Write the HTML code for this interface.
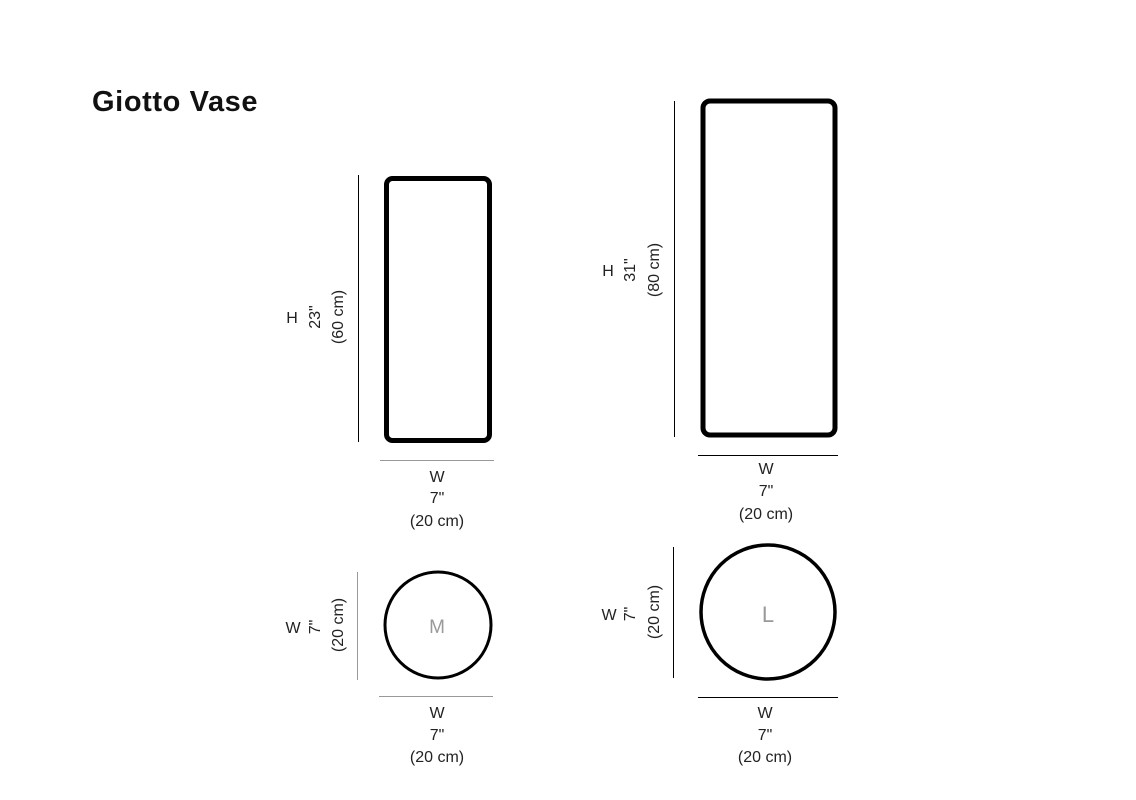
<!DOCTYPE html>
<html><head><meta charset="utf-8"><style>
html,body{margin:0;padding:0;background:#fff;}
svg{display:block;}
text{font-family:"Liberation Sans",sans-serif;font-size:16px;fill:#222;}
</style></head><body>
<svg width="1136" height="800" viewBox="0 0 1136 800" xmlns="http://www.w3.org/2000/svg">
<text x="92" y="111" style="font-size:29px;font-weight:bold;fill:#111;letter-spacing:0.6px">Giotto Vase</text>

<!-- M rect -->
<line x1="358.5" y1="175" x2="358.5" y2="442" stroke="#000" stroke-width="1"/>
<rect x="386.5" y="178.5" width="103" height="262" rx="6" fill="none" stroke="#000" stroke-width="5"/>
<line x1="380" y1="460.5" x2="494" y2="460.5" stroke="#999" stroke-width="1"/>
<g text-anchor="middle">
<text x="292" y="323">H</text>
<text transform="translate(320,317) rotate(-90)">23"</text>
<text transform="translate(343,317) rotate(-90)">(60 cm)</text>
<text x="437" y="482">W</text>
<text x="437" y="503">7"</text>
<text x="437" y="526">(20 cm)</text>
</g>

<!-- L rect -->
<line x1="674.5" y1="101" x2="674.5" y2="437" stroke="#000" stroke-width="1"/>
<rect x="703" y="101" width="132" height="334" rx="7" fill="none" stroke="#000" stroke-width="5"/>
<line x1="698" y1="455.5" x2="838" y2="455.5" stroke="#000" stroke-width="1"/>
<g text-anchor="middle">
<text x="608" y="276">H</text>
<text transform="translate(635,270) rotate(-90)">31"</text>
<text transform="translate(659,270) rotate(-90)">(80 cm)</text>
<text x="766" y="474">W</text>
<text x="766" y="496">7"</text>
<text x="766" y="519">(20 cm)</text>
</g>

<!-- M circle -->
<line x1="357.5" y1="572" x2="357.5" y2="680" stroke="#999" stroke-width="1"/>
<circle cx="438" cy="625" r="53" fill="none" stroke="#000" stroke-width="3"/>
<text x="437" y="633" text-anchor="middle" style="font-size:19px;fill:#999">M</text>
<line x1="379" y1="696.5" x2="493" y2="696.5" stroke="#999" stroke-width="1"/>
<g text-anchor="middle">
<text x="293" y="633">W</text>
<text transform="translate(320,627) rotate(-90)">7"</text>
<text transform="translate(343,625) rotate(-90)">(20 cm)</text>
<text x="437" y="718">W</text>
<text x="437" y="740">7"</text>
<text x="437" y="762">(20 cm)</text>
</g>

<!-- L circle -->
<line x1="673.5" y1="547" x2="673.5" y2="678" stroke="#000" stroke-width="1"/>
<circle cx="768" cy="612" r="67" fill="none" stroke="#000" stroke-width="3.5"/>
<text x="768" y="622" text-anchor="middle" style="font-size:22px;fill:#999">L</text>
<line x1="698" y1="697.5" x2="838" y2="697.5" stroke="#000" stroke-width="1"/>
<g text-anchor="middle">
<text x="609" y="620">W</text>
<text transform="translate(635,614) rotate(-90)">7"</text>
<text transform="translate(659,612) rotate(-90)">(20 cm)</text>
<text x="765" y="718">W</text>
<text x="765" y="740">7"</text>
<text x="765" y="762">(20 cm)</text>
</g>
</svg>
</body></html>
